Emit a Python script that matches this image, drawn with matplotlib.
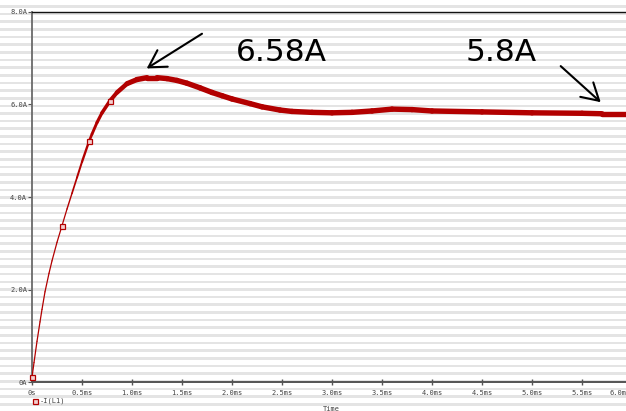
import numpy as np
import matplotlib
matplotlib.use("Agg")
import matplotlib.pyplot as plt
from matplotlib.collections import LineCollection
from matplotlib.lines import Line2D
from matplotlib.patches import Rectangle
from matplotlib.transforms import ScaledTranslation

# Inductor current -I(L1) versus time (ms, A)
time_ms = [0.00, 0.02, 0.05, 0.08, 0.10, 0.13, 0.17, 0.20, 0.25, 0.30,
           0.35, 0.40, 0.45, 0.50, 0.57, 0.60, 0.65, 0.70, 0.78, 0.85,
           0.95, 1.05, 1.15, 1.25, 1.35, 1.45, 1.55, 1.68, 1.80, 1.90,
           2.00, 2.18, 2.30, 2.48, 2.60, 2.80, 3.00, 3.20, 3.40, 3.60,
           3.80, 4.00, 4.50, 5.00, 5.50, 5.70, 6.00]
current_a = [0.10, 0.42, 0.88, 1.30, 1.57, 1.95, 2.35, 2.62, 3.02, 3.38,
             3.74, 4.08, 4.42, 4.76, 5.20, 5.36, 5.61, 5.82, 6.08, 6.26,
             6.45, 6.54, 6.58, 6.58, 6.56, 6.52, 6.46, 6.36, 6.26, 6.19,
             6.12, 6.02, 5.95, 5.88, 5.85, 5.83, 5.82, 5.83, 5.86, 5.90,
             5.89, 5.86, 5.84, 5.82, 5.81, 5.80, 5.80]
marker_idx = [0, 9, 14, 18]

peak_label = "6.58A"
steady_label = "5.8A"
peak_tip = (1.147, 6.78)
peak_tail = (1.70, 7.53)
steady_tip = (5.687, 6.05)
steady_tail = (5.287, 6.83)
peak_text_pos = (2.49, 7.12)
steady_text_pos = (4.69, 7.12)

x_ticks = [0.0, 0.5, 1.0, 1.5, 2.0, 2.5, 3.0, 3.5, 4.0, 4.5, 5.0, 5.5, 6.0]
x_tick_labels = ["0s", "0.5ms", "1.0ms", "1.5ms", "2.0ms", "2.5ms", "3.0ms",
                 "3.5ms", "4.0ms", "4.5ms", "5.0ms", "5.5ms", "6.0ms"]
y_ticks = [0, 2, 4, 6, 8]
y_tick_labels = ["0A", "2.0A", "4.0A", "6.0A", "8.0A"]

W, H = 626, 411
DPI = 100
RED = "#b20000"
SMALL = dict(family="DejaVu Sans Mono", size=5, color="#444444")

fig = plt.figure(figsize=(W / DPI, H / DPI), dpi=DPI)
fig.patch.set_facecolor("white")

# ruled background
period = 7.65
for yc in np.arange(6.4, H + period, period):
    fig.patches.append(Rectangle((0, 1 - (yc + 1.3) / H), 1, 2.6 / H,
                                 transform=fig.transFigure,
                                 facecolor="#e4e4e4", edgecolor="none",
                                 zorder=-10))

left, right, top, bottom = 32, 632, 12, 382
ax = fig.add_axes([left / W, 1 - bottom / H, (right - left) / W,
                   (bottom - top) / H])
ax.set_facecolor("none")
ax.set_xlim(0, 6.0)
ax.set_ylim(0, 8.0)

# trace: thin on the fast rise, thicker where the ripple band widens
t = np.asarray(time_ms)
i = np.asarray(current_a)
pts = np.column_stack([t, i]).reshape(-1, 1, 2)
segs = np.concatenate([pts[:-1], pts[1:]], axis=1)
tm = 0.5 * (t[:-1] + t[1:])
widths = np.clip(0.9 + (tm - 0.35) / 0.7 * 3.0, 0.9, 3.9)
lc = LineCollection(segs, colors=RED, linewidths=widths, capstyle="round",
                    joinstyle="round", zorder=3)
ax.add_collection(lc)
ax.plot(t[marker_idx], i[marker_idx], ls="none", marker="s", ms=3.6,
        mfc="#f4d0d0", mec=RED, mew=0.9, zorder=4, clip_on=False)

# axes frame
ax.spines["right"].set_visible(False)
ax.spines["left"].set_color("#6a6a6a")
ax.spines["left"].set_linewidth(1.3)
ax.spines["bottom"].set_color("#555555")
ax.spines["bottom"].set_linewidth(1.4)
ax.spines["top"].set_color("#111111")
ax.spines["top"].set_linewidth(1.0)

ax.set_xticks(x_ticks)
ax.set_xticklabels(x_tick_labels, fontdict=SMALL)
ax.set_yticks(y_ticks)
ax.set_yticklabels(y_tick_labels, fontdict=SMALL)
ax.tick_params(axis="x", direction="inout", length=5, width=1.0,
               color="#555555", pad=3)
ax.tick_params(axis="y", direction="out", length=3, width=0.8,
               color="#555555", pad=0.5)
# pull the last time label in from the edge
last = ax.get_xticklabels()[-1]
last.set_transform(last.get_transform()
                   + ScaledTranslation(-12 / DPI, 0, fig.dpi_scale_trans))

# annotations
for tip, tail in ((peak_tip, peak_tail), (steady_tip, steady_tail)):
    ax.annotate("", xy=tip, xytext=tail,
                arrowprops=dict(arrowstyle="->,head_length=12,head_width=7",
                                mutation_scale=1, lw=1.5, color="black",
                                shrinkA=0, shrinkB=0))
ax.text(*peak_text_pos, peak_label, fontsize=22.5, family="DejaVu Sans",
        ha="center", va="center", color="black")
ax.text(*steady_text_pos, steady_label, fontsize=22.5, family="DejaVu Sans",
        ha="center", va="center", color="black")

# legend entry and axis title below the plot
fig.add_artist(Line2D([34.7 / W], [1 - 400.7 / H], ls="none", marker="s",
                      ms=3.6, mfc="#f4d0d0", mec=RED, mew=0.9,
                      transform=fig.transFigure))
fig.text(40 / W, 1 - 400.7 / H, "-I(L1)", ha="left", va="center", **SMALL)
fig.text(331 / W, 1 - 408.5 / H, "Time", ha="center", va="center", **SMALL)

fig.savefig("out.png", dpi=DPI)
